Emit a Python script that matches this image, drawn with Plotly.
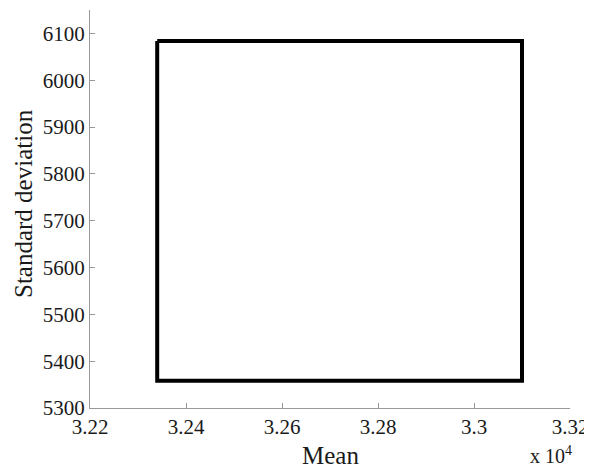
import plotly.graph_objects as go

# Rectangle corners (mean, std)
mean_vals = [32340, 33100, 33100, 32340, 32340]
std_vals = [6084, 6084, 5358, 5358, 6084]

x_tick_vals = [32200, 32400, 32600, 32800, 33000, 33200]
x_tick_text = ["3.22", "3.24", "3.26", "3.28", "3.3", "3.32"]
y_tick_vals = [5300, 5400, 5500, 5600, 5700, 5800, 5900, 6000, 6100]
y_tick_text = [str(v) for v in y_tick_vals]

fig = go.Figure()
fig.add_trace(go.Scatter(x=mean_vals, y=std_vals, mode="lines",
                         line=dict(color="black", width=4), showlegend=False))

font = "Times New Roman, Liberation Serif, serif"
tickfont = dict(family=font, size=21, color="#1a1a1a")
fig.update_layout(
    width=584, height=460,
    margin=dict(l=82, r=22, t=2, b=60, autoexpand=False),
    paper_bgcolor="white", plot_bgcolor="white",
    font=dict(family=font, size=21, color="#1a1a1a"),
    xaxis=dict(range=[32200, 33200], tickvals=x_tick_vals, ticktext=x_tick_text,
               tickfont=tickfont,
               showline=True, linecolor="#999", linewidth=1, ticks="inside",
               ticklen=5, tickcolor="#999", showgrid=False, zeroline=False),
    yaxis=dict(range=[5300, 6150], tickvals=y_tick_vals, ticktext=y_tick_text,
               tickfont=tickfont,
               showline=True, linecolor="#999", linewidth=1, ticks="inside",
               ticklen=5, tickcolor="#999", showgrid=False, zeroline=False),
    annotations=[
        dict(text="Mean", x=0.5, y=0, xref="paper", yref="paper",
             xanchor="center", yanchor="middle", yshift=-47,
             showarrow=False, font=dict(family=font, size=25)),
        dict(text="Standard deviation", x=0, y=0.5, xref="paper", yref="paper",
             xanchor="center", yanchor="middle", xshift=-67, yshift=5, textangle=-90,
             showarrow=False, font=dict(family=font, size=25)),
        dict(text="x 10<sup>4</sup>", x=1.0, y=0, xref="paper", yref="paper",
             xanchor="right", yanchor="middle", yshift=-47, xshift=4,
             showarrow=False, font=dict(family=font, size=20)),
    ],
)
fig.write_html("out.html")
